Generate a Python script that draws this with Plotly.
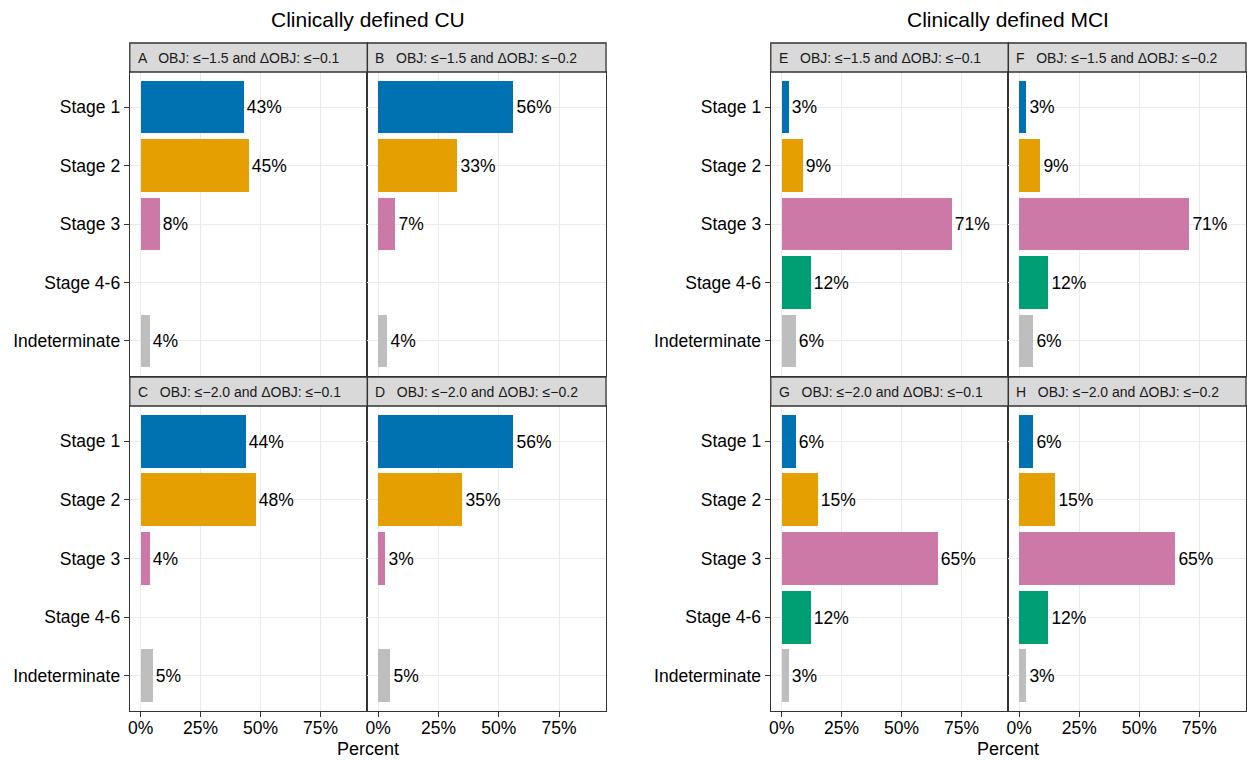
import plotly.graph_objects as go

# ---------------- data ----------------
stages = ["Stage 1", "Stage 2", "Stage 3", "Stage 4-6", "Indeterminate"]
stage_colors = ["#0072B2", "#E69F00", "#CC79A7", "#009E73", "#BEBEBE"]

group_titles = ["Clinically defined CU", "Clinically defined MCI"]

panel_letters = ["A", "B", "C", "D", "E", "F", "G", "H"]
panel_criteria = [
    "OBJ: ≤−1.5 and ΔOBJ: ≤−0.1",
    "OBJ: ≤−1.5 and ΔOBJ: ≤−0.2",
    "OBJ: ≤−2.0 and ΔOBJ: ≤−0.1",
    "OBJ: ≤−2.0 and ΔOBJ: ≤−0.2",
    "OBJ: ≤−1.5 and ΔOBJ: ≤−0.1",
    "OBJ: ≤−1.5 and ΔOBJ: ≤−0.2",
    "OBJ: ≤−2.0 and ΔOBJ: ≤−0.1",
    "OBJ: ≤−2.0 and ΔOBJ: ≤−0.2",
]

cu_a = [43, 45, 8, None, 4]
cu_b = [56, 33, 7, None, 4]
cu_c = [44, 48, 4, None, 5]
cu_d = [56, 35, 3, None, 5]
mci_e = [3, 9, 71, 12, 6]
mci_f = [3, 9, 71, 12, 6]
mci_g = [6, 15, 65, 12, 3]
mci_h = [6, 15, 65, 12, 3]
panel_values = [cu_a, cu_b, cu_c, cu_d, mci_e, mci_f, mci_g, mci_h]

x_tick_vals = [0, 25, 50, 75]
x_tick_text = ["0%", "25%", "50%", "75%"]
x_title = "Percent"

# ---------------- layout geometry (pixels) ----------------
W, H = 1247, 760
def fx(p):
    return p / W
def fy(p):
    return 1 - p / H

col_px = [(128, 366), (366, 605), (128, 366), (366, 605),
          (770, 1008), (1008, 1246), (770, 1008), (1008, 1246)]
row_px = [(72, 376), (72, 376), (406, 711), (406, 711),
          (72, 376), (72, 376), (406, 711), (406, 711)]
strip_px = [(43, 72), (43, 72), (377, 406), (377, 406),
            (43, 72), (43, 72), (377, 406), (377, 406)]
show_y = [True, False, True, False, True, False, True, False]
show_x = [False, False, True, True, False, False, True, True]

FONT = "Liberation Sans, Arial, Helvetica, sans-serif"
BORDER = "#333333"
GRID = "#EBEBEB"

fig = go.Figure()
shapes = []
annotations = []
layout_axes = {}

for i, vals in enumerate(panel_values):
    xa = "x" if i == 0 else f"x{i+1}"
    ya = "y" if i == 0 else f"y{i+1}"
    ys = [s for s, v in zip(stages, vals) if v is not None]
    xs = [v for v in vals if v is not None]
    cs = [c for c, v in zip(stage_colors, vals) if v is not None]
    fig.add_trace(go.Bar(
        x=xs, y=ys, orientation="h", width=0.9,
        marker=dict(color=cs, line=dict(width=0)),
        text=[f"{v}%" for v in xs], textposition="outside",
        textangle=0, constraintext="none", cliponaxis=False,
        outsidetextfont=dict(size=17.5, color="#000000", family=FONT),
        xaxis=xa, yaxis=ya, showlegend=False, hoverinfo="skip"))

    (x0, x1), (y0, y1) = col_px[i], row_px[i]
    layout_axes["xaxis" if i == 0 else f"xaxis{i+1}"] = dict(
        domain=[fx(x0), fx(x1)], anchor=ya, range=[-4.5, 94.5],
        tickvals=x_tick_vals, ticktext=x_tick_text,
        showticklabels=show_x[i], ticks="outside" if show_x[i] else "",
        ticklen=5, tickcolor=BORDER, tickwidth=1, ticklabelstandoff=-4,
        tickfont=dict(size=17.5, color="#000000", family=FONT),
        showgrid=True, gridcolor=GRID, gridwidth=1.3, zeroline=False,
        showline=True, mirror=True, linecolor=BORDER, linewidth=1.3,
        fixedrange=True)
    layout_axes["yaxis" if i == 0 else f"yaxis{i+1}"] = dict(
        domain=[fy(y1), fy(y0)], anchor=xa, type="category",
        categoryorder="array", categoryarray=stages, range=[4.6, -0.6],
        showticklabels=show_y[i], ticks="outside" if show_y[i] else "",
        ticklen=5, tickcolor=BORDER, tickwidth=1,
        tickfont=dict(size=17.5, color="#000000", family=FONT),
        showgrid=True, gridcolor=GRID, gridwidth=1.3, zeroline=False,
        showline=True, mirror=True, linecolor=BORDER, linewidth=1.3,
        fixedrange=True)

    s0, s1 = strip_px[i]
    shapes.append(dict(type="rect", xref="paper", yref="paper",
                       x0=fx(x0), x1=fx(x1), y0=fy(s1), y1=fy(s0),
                       fillcolor="#D9D9D9", line=dict(color=BORDER, width=1.3),
                       layer="above"))
    annotations.append(dict(
        x=fx(x0 + 6), y=fy((s0 + s1) / 2), xref="paper", yref="paper",
        xanchor="left", yanchor="middle", showarrow=False,
        text=f"{panel_letters[i]}   {panel_criteria[i]}",
        font=dict(size=14, color="#1A1A1A", family=FONT)))

# group titles and x titles
group_centers = [(128 + 605) / 2, (770 + 1246) / 2]
for g, title in enumerate(group_titles):
    annotations.append(dict(
        x=fx(group_centers[g]), y=fy(20), xref="paper", yref="paper",
        xanchor="center", yanchor="middle", showarrow=False, text=title,
        font=dict(size=21, color="#000000", family=FONT)))
    annotations.append(dict(
        x=fx(group_centers[g]), y=fy(749), xref="paper", yref="paper",
        xanchor="center", yanchor="middle", showarrow=False, text=x_title,
        font=dict(size=18, color="#000000", family=FONT)))

fig.update_layout(
    width=W, height=H, margin=dict(l=0, r=0, t=0, b=0),
    paper_bgcolor="white", plot_bgcolor="white",
    shapes=shapes, annotations=annotations, bargap=0,
    font=dict(family=FONT), **layout_axes)

fig.write_html(
    "out.html",
    config={"displayModeBar": False},
    post_script="document.body.style.margin='0';document.body.style.overflow='hidden';")
